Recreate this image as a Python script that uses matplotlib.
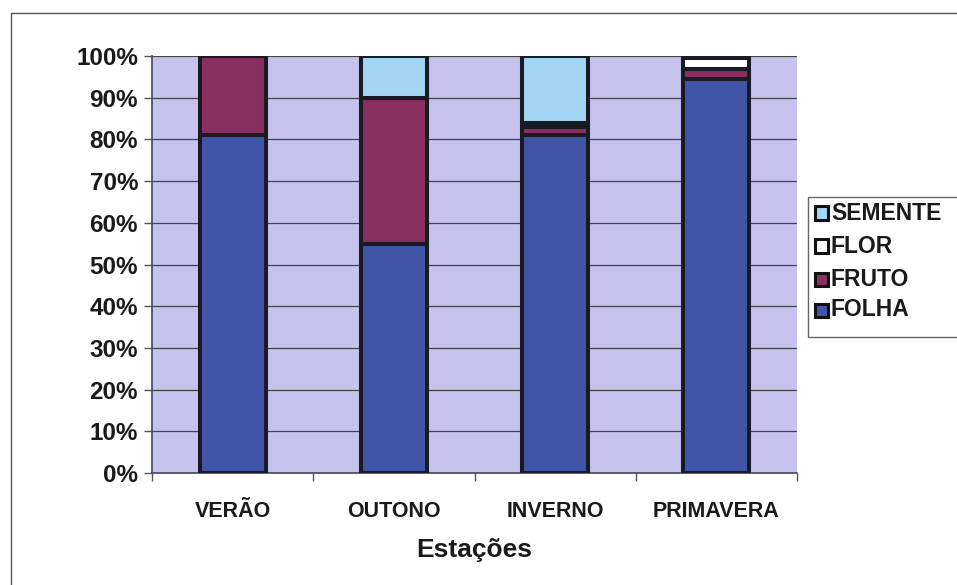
import matplotlib
matplotlib.use("Agg")
import matplotlib.pyplot as plt
from matplotlib.patches import Rectangle
import numpy as np

plt.rcParams['font.family'] = ['Liberation Sans', 'DejaVu Sans']

# Share of each item per season (%)
seasons = ["VERÃO", "OUTONO", "INVERNO", "PRIMAVERA"]
folha = [81.0, 55.0, 81.0, 94.5]
fruto = [19.0, 35.0, 2.0, 2.5]
flor = [0.0, 0.0, 1.0, 2.5]
semente = [0.0, 10.0, 16.0, 0.5]
y_labels = ["0%", "10%", "20%", "30%", "40%", "50%", "60%", "70%", "80%", "90%", "100%"]

series = [("FOLHA", folha, "#4155a8"),
          ("FRUTO", fruto, "#8a3060"),
          ("FLOR", flor, "#ffffff"),
          ("SEMENTE", semente, "#a2d6f2")]

W, H = 957, 585
fig = plt.figure(figsize=(W / 100, H / 100), dpi=100)
fig.patch.set_facecolor("white")

# outer chart frame
fig.add_artist(Rectangle((11 / W, -0.1), 1.2, (H - 13) / H + 0.1,
                         transform=fig.transFigure, fill=False,
                         edgecolor="#555555", linewidth=1.0))

ax = fig.add_axes([152 / W, 1 - 473 / H, (797 - 152) / W, (473 - 56) / H])
ax.set_facecolor("#c5c2ee")

x = np.arange(len(seasons))
bottom = np.zeros(len(seasons))
for name, vals, col in series:
    v = np.array(vals)
    ax.bar(x, v, 0.41, bottom=bottom, color=col, edgecolor="#1a1a24",
           linewidth=2.9, label=name, zorder=3)
    bottom += v

ax.set_xlim(-0.5, 3.5)
ax.set_ylim(0, 100)
ax.set_yticks(np.arange(0, 101, 10))
ax.set_yticklabels(y_labels, fontsize=17.5, fontweight="bold", color="#1a1a1a")
ax.yaxis.grid(True, color="#444444", linewidth=0.9, zorder=1)
ax.set_axisbelow(True)
ax.tick_params(axis="y", length=6, width=1, color="#555555", pad=4)

ax.set_xticks(x)
ax.set_xticklabels(seasons, fontsize=15.5, fontweight="bold", color="#1a1a1a")
ax.set_xticks(np.arange(-0.5, 4, 1), minor=True)
ax.tick_params(axis="x", which="major", length=0, pad=20)
ax.tick_params(axis="x", which="minor", length=6, width=1, color="#555555")

for s in ["top", "right"]:
    ax.spines[s].set_visible(False)
ax.spines["left"].set_color("#444466")
ax.spines["bottom"].set_color("#444466")
ax.spines["left"].set_linewidth(1.2)
ax.spines["bottom"].set_linewidth(1.2)

ax.set_xlabel("Estações", fontsize=19, fontweight="bold", color="#1a1a1a", labelpad=12)

# legend box on the right
fig.add_artist(Rectangle((808 / W, 1 - 337 / H), 0.3, 140 / H,
                         transform=fig.transFigure, fill=False,
                         edgecolor="#666666", linewidth=1.0))
rows = [("SEMENTE", "#a2d6f2", 213), ("FLOR", "#ffffff", 246),
        ("FRUTO", "#8a3060", 279), ("FOLHA", "#4155a8", 310)]
for name, col, yc in rows:
    fig.add_artist(Rectangle((815 / W, 1 - (yc + 6.5) / H), 13 / W, 13 / H,
                             transform=fig.transFigure, facecolor=col,
                             edgecolor="#111111", linewidth=2.2))
    fig.text(831 / W, 1 - yc / H, name, fontsize=16.5, fontweight="bold",
             color="#1a1a1a", va="center", ha="left")

fig.savefig("out.png", dpi=100, facecolor="white")
